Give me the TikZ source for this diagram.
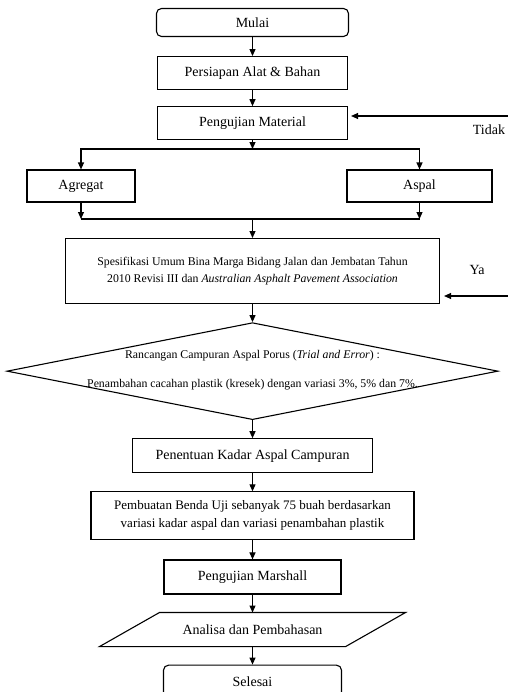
\documentclass[tikz,border=0pt]{standalone}
\usepackage{fontspec}
\setmainfont{Liberation Serif}
\usetikzlibrary{positioning}
\usetikzlibrary{shapes.geometric}
\usetikzlibrary{arrows.meta}

\begin{document}
\begin{tikzpicture}[x=1bp,y=1bp,>={Triangle[length=7bp,width=6bp]},line width=1.1bp,
  node distance=18bp,
  process/.style={rectangle,draw,inner sep=2bp,align=center,font=\fontsize{14bp}{17bp}\selectfont},
  terminal/.style={process,rounded corners=5bp},
  decision/.style={diamond,draw,inner sep=0pt}]
  \useasboundingbox (0,0) rectangle (508,-692);

  \node[terminal,minimum width=192bp,minimum height=28bp] (mulai) at (252.5,-22.5) {Mulai};
  \node[process,minimum width=190bp,minimum height=33bp] (persiapan) [below=19bp of mulai] {Persiapan Alat \& Bahan};
  \node[process,minimum width=190bp,minimum height=33bp] (pengujian) [below=16bp of persiapan] {Pengujian Material};
  \coordinate (split) at (252.5,-149);
  \node[process,minimum width=108bp,minimum height=32bp] (agregat) at (81,-186) {Agregat};
  \node[process,minimum width=145bp,minimum height=32bp] (aspal) at (419.5,-186) {Aspal};
  \coordinate (join) at (252.5,-219);
  \node[process,minimum width=374bp,minimum height=65bp,
    font=\fontsize{11.8bp}{17bp}\selectfont] (spesifikasi) [below=19bp of join]
    {Spesifikasi Umum Bina Marga Bidang Jalan dan Jembatan Tahun\\
     2010 Revisi III dan \textit{Australian Asphalt Pavement Association}};
  \node[decision,minimum width=491bp,minimum height=97bp] (rancangan) [below=18bp of spesifikasi] {};
  \node[font=\fontsize{11.8bp}{14bp}\selectfont] (rancanganatas) at ([yshift=15bp]rancangan.center)
    {Rancangan Campuran Aspal Porus (\textit{Trial and Error}) :};
  \node[font=\fontsize{11.8bp}{14bp}\selectfont] (rancanganbawah) at ([yshift=-14bp]rancangan.center)
    {Penambahan cacahan plastik (kresek) dengan variasi 3\%, 5\% dan 7\%.};
  \node[process,minimum width=240bp,minimum height=34bp] (penentuan) [below=18bp of rancangan] {Penentuan Kadar Aspal Campuran};
  \node[process,minimum width=323bp,minimum height=48bp,
    font=\fontsize{13bp}{18bp}\selectfont] (pembuatan) [below=18bp of penentuan]
    {Pembuatan Benda Uji sebanyak 75 buah berdasarkan\\
     variasi kadar aspal dan variasi penambahan plastik};
  \node[process,minimum width=177bp,minimum height=34bp] (marshall) [below=19bp of pembuatan] {Pengujian Marshall};
  \node[process,draw=none,minimum width=245bp,minimum height=33bp] (analisa) [below=18bp of marshall] {Analisa dan Pembahasan};
  \draw ([xshift=30bp]analisa.north west) -- ([xshift=30bp]analisa.north east)
     -- ([xshift=-30bp]analisa.south east) -- ([xshift=-30bp]analisa.south west) -- cycle;
  \node[terminal,minimum width=178bp,minimum height=33bp] (selesai) [below=18bp of analisa] {Selesai};

  % loop back lines
  \coordinate (tidakujung) at (508,-116);
  \coordinate (yaujung) at (508,-296);
  \node[font=\fontsize{14bp}{17bp}\selectfont] (tidak) at (489,-130) {Tidak};
  \node[font=\fontsize{14bp}{17bp}\selectfont] (ya) at (477,-270) {Ya};

  \draw[->] (mulai) -- (persiapan);
  \draw[->] (persiapan) -- (pengujian);
  \draw[->] (pengujian) -- (split);
  \draw[->] (split) -| (agregat);
  \draw[->] (split) -| (aspal);
  \draw[->] (agregat) -- (agregat |- join);
  \draw[->] (aspal) -- (aspal |- join);
  \draw (agregat |- join) -- (aspal |- join);
  \draw[->] (join) -- (spesifikasi);
  \draw[->] (spesifikasi) -- (rancangan);
  \draw[->] (rancangan) -- (penentuan);
  \draw[->] (penentuan) -- (pembuatan);
  \draw[->] (pembuatan) -- (marshall);
  \draw[->] (marshall) -- (analisa);
  \draw[->] (analisa) -- (selesai);
  \draw[->,shorten >=3bp] (tidakujung) -- (tidakujung -| pengujian.east);
  \draw[->,shorten >=4bp] (yaujung) -- (yaujung -| spesifikasi.east);
\end{tikzpicture}
\end{document}
